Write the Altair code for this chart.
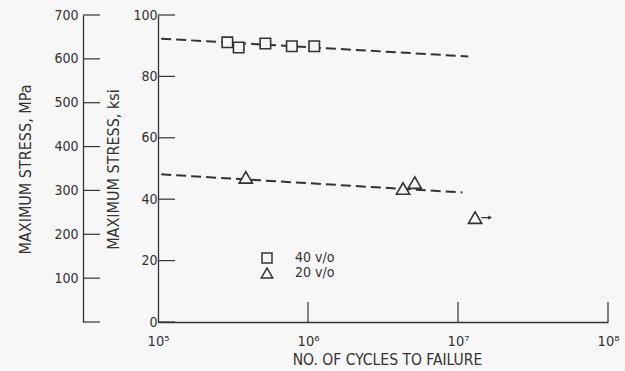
import altair as alt
import pandas as pd

# ---- data ----
cycles_40 = [2.9e5, 3.45e5, 5.2e5, 7.8e5, 1.1e6]
stress_40 = [91.1, 89.4, 90.7, 89.8, 89.8]
cycles_20 = [3.85e5, 4.3e6, 5.15e6, 1.3e7]
stress_20 = [47.1, 43.5, 45.4, 34.0]
series_names = ["40 v/o", "20 v/o"]

fit_40_cycles = [1.05e5, 1.17e7]
fit_40_stress = [92.3, 86.5]
fit_20_cycles = [1.05e5, 1.07e7]
fit_20_stress = [48.1, 42.2]

runout_cycles = [1.3e7]
runout_stress = [34.0]

ksi_ticks = [0, 20, 40, 60, 80, 100]
mpa_ticks = [0, 100, 200, 300, 400, 500, 600, 700]
x_ticks = [1e5, 1e6, 1e7, 1e8]
x_tick_labels = ["10\u2075", "10\u2076", "10\u2077", "10\u2078"]

# ---- style ----
FONT = "DejaVu Sans Condensed"
INK = "#333333"
BG = "#f7f7f7"
W, H = 450, 307
SIZES = [110, 175]
SHAPES = ["square", "triangle-up"]

pts = pd.DataFrame({
    "cycles": cycles_40 + cycles_20,
    "ksi": stress_40 + stress_20,
    "series": [series_names[0]] * len(cycles_40) + [series_names[1]] * len(cycles_20),
})
fits = pd.DataFrame({
    "cycles": fit_40_cycles + fit_20_cycles,
    "ksi": fit_40_stress + fit_20_stress,
    "series": [series_names[0]] * 2 + [series_names[1]] * 2,
})
runout = pd.DataFrame({"cycles": runout_cycles, "ksi": runout_stress})
runout["c1"] = runout["cycles"] * 1.1
runout["c2"] = runout["cycles"] * 1.26
ksi_tick_df = pd.DataFrame({"ksi": ksi_ticks})
mpa_tick_df = pd.DataFrame({"mpa": mpa_ticks})
x_tick_df = pd.DataFrame({"cycles": x_ticks[1:]})
legend_df = pd.DataFrame({"series": series_names})

label_expr = " : ".join(
    f"datum.value == {v:g} ? '{l}'" for v, l in zip(x_ticks, x_tick_labels)
) + " : ''"

xscale = alt.Scale(type="log", domain=[1e5, 1e8])
shape_enc = alt.Shape("series:N", scale=alt.Scale(domain=series_names, range=SHAPES), legend=None)
size_enc = alt.Size("series:N", scale=alt.Scale(domain=series_names, range=SIZES), legend=None)

X = alt.X(
    "cycles:Q", scale=xscale,
    axis=alt.Axis(
        values=x_ticks, labelExpr=label_expr, ticks=False, tickSize=0, grid=False,
        labelPadding=12, labelFontSize=14.5, labelFont=FONT, labelColor=INK,
        domainColor=INK, domainWidth=1.3, labelFlush=False,
        title="NO. OF CYCLES TO FAILURE", titleFont=FONT, titleFontSize=15.5,
        titleFontWeight="normal", titleColor=INK, titleX=229, titleY=37,
        titleBaseline="middle", titleAlign="center",
    ),
)
Y = alt.Y(
    "ksi:Q", scale=alt.Scale(domain=[0, 100]),
    axis=alt.Axis(
        orient="left", values=ksi_ticks, ticks=False, tickSize=0, grid=False,
        labelPadding=1, labelFontSize=14, labelFont=FONT, labelColor=INK,
        domainColor=INK, domainWidth=1.3, labelFlush=False,
        title="MAXIMUM STRESS, ksi", titleFont=FONT, titleFontSize=16,
        titleFontWeight="normal", titleColor=INK, titleX=-45, titleY=154,
        titleAngle=-90, titleBaseline="middle", titleAlign="center",
    ),
)

fit_lines = alt.Chart(fits).mark_line(
    color=INK, strokeDash=[10, 5], strokeWidth=2
).encode(x=X, y=Y, detail="series:N")

# background-filled markers underneath so the dashed lines do not show through
points_fill = alt.Chart(pts).mark_point(filled=True, color=BG, opacity=1).encode(
    x=X, y=Y, shape=shape_enc, size=size_enc
)
points = alt.Chart(pts).mark_point(
    filled=False, color=INK, strokeWidth=1.6, opacity=1
).encode(x=X, y=Y, shape=shape_enc, size=size_enc)

runout_rule = alt.Chart(runout).mark_rule(color=INK, strokeWidth=1.3).encode(
    x=alt.X("c1:Q", scale=xscale), x2="c2:Q", y=Y
)
runout_head = alt.Chart(runout).mark_point(
    shape="triangle-right", filled=True, color=INK, size=18, opacity=1
).encode(x=alt.X("c2:Q", scale=xscale), y=Y)

ksi_ticks_rule = alt.Chart(ksi_tick_df).mark_rule(color=INK, strokeWidth=1.2).encode(
    y=Y, x=alt.value(0), x2=alt.value(17)
)
x_ticks_rule = alt.Chart(x_tick_df).mark_rule(color=INK, strokeWidth=1.2).encode(
    x=X, y=alt.value(H), y2=alt.value(H - 20)
)

ksi_layer = alt.layer(
    fit_lines, ksi_ticks_rule, x_ticks_rule, runout_rule, runout_head, points_fill, points
).resolve_scale(y="shared")

mpa_layer = alt.Chart(mpa_tick_df).mark_rule(color=INK, strokeWidth=1.2).encode(
    y=alt.Y(
        "mpa:Q", scale=alt.Scale(domain=[0, 700]),
        axis=alt.Axis(
            orient="left", offset=75, values=mpa_ticks[1:], ticks=False, tickSize=0,
            grid=False, labelPadding=5, labelFontSize=14, labelFont=FONT,
            labelColor=INK, domainColor=INK, domainWidth=1.3, labelFlush=False,
            title="MAXIMUM STRESS, MPa", titleFont=FONT, titleFontSize=16,
            titleFontWeight="normal", titleColor=INK, titleX=-58, titleY=154,
            titleAngle=-90, titleBaseline="middle", titleAlign="center",
        ),
    ),
    x=alt.value(-75), x2=alt.value(-58),
)

# in-plot key (square = 40 v/o, triangle = 20 v/o)
LEG_Y = alt.Y(
    "series:N",
    scale=alt.Scale(type="point", domain=series_names, range=[243, 258], padding=0),
    axis=None,
)
legend_sym = alt.Chart(legend_df).mark_point(
    filled=False, color=INK, strokeWidth=1.5, opacity=1
).encode(
    x=alt.value(109), y=LEG_Y, shape=shape_enc,
    size=alt.Size("series:N", scale=alt.Scale(domain=series_names, range=[100, 130]), legend=None),
)
legend_txt = alt.Chart(legend_df).mark_text(
    align="left", baseline="middle", font=FONT, fontSize=14, color=INK
).encode(x=alt.value(137), y=LEG_Y, text="series:N")
legend_layer = alt.layer(legend_sym, legend_txt).resolve_scale(y="shared", size="independent")

chart = alt.layer(ksi_layer, mpa_layer, legend_layer).resolve_scale(
    y="independent", size="independent"
).properties(
    width=W, height=H,
    autosize=alt.AutoSizeParams(type="none"),
    padding={"left": 158, "top": 15, "right": 17, "bottom": 49},
    background=BG,
).configure_view(stroke=None)

chart.save("out.html", embed_options={"renderer": "svg", "actions": False})
